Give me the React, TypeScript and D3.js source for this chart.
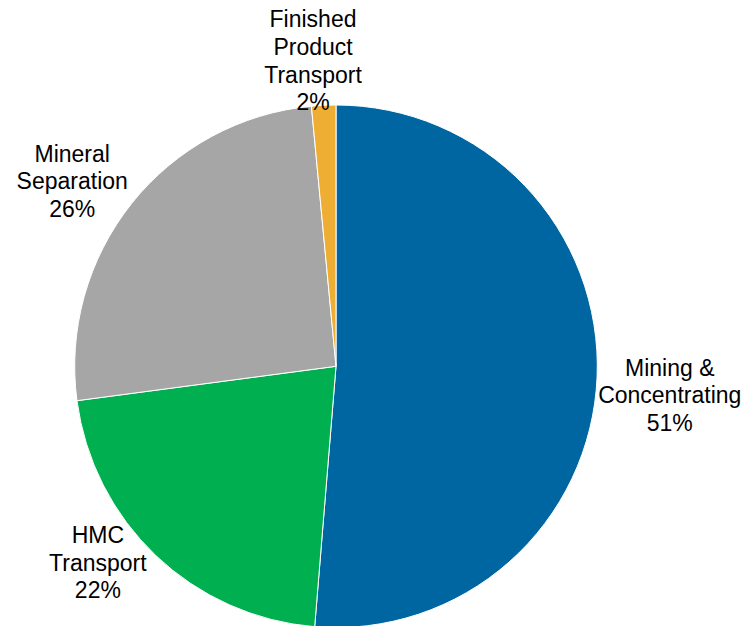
import React from 'react';
import { pie, arc, PieArcDatum } from 'd3';

// slice data, clockwise from 12 o'clock
const categories = [
  ['Mining &', 'Concentrating'],
  ['HMC', 'Transport'],
  ['Mineral', 'Separation'],
  ['Finished', 'Product', 'Transport'],
];
const shares = [51.3, 21.6, 25.6, 1.5];
const colors = ['#0066A1', '#00B050', '#A6A6A6', '#EEAD33'];

const dim = {
  width: 748,
  height: 626,
  cx: 336,
  cy: 366.3,
  radius: 261.3,
  labelRadius: 318,
  fontSize: 23,
  lineHeight: 27.6,
};

// hand nudges so the labels sit where the original placed them
const labelNudge: Array<[number, number]> = [
  [16, 16],
  [-19, -34],
  [-15, 13],
  [-8, 12],
];

interface Slice {
  name: string[];
  value: number;
  color: string;
}

const slices: Slice[] = shares.map((value, i) => ({
  name: categories[i],
  value,
  color: colors[i],
}));

const App: React.FC = () => {
  const arcs = pie<Slice>()
    .sort(null)
    .value((d) => d.value)
    .startAngle(0)
    .endAngle(2 * Math.PI)(slices);

  const arcPath = arc<PieArcDatum<Slice>>()
    .innerRadius(0)
    .outerRadius(dim.radius);

  const labelPos = (d: PieArcDatum<Slice>, i: number) => {
    const mid = (d.startAngle + d.endAngle) / 2;
    const x = Math.sin(mid) * dim.labelRadius + labelNudge[i][0];
    const y = -Math.cos(mid) * dim.labelRadius + labelNudge[i][1];
    return [x, y];
  };

  return (
    <svg
      width={dim.width}
      height={dim.height}
      style={{ position: 'absolute', left: 0, top: 0, background: '#fff' }}
    >
      <g transform={`translate(${dim.cx},${dim.cy})`}>
        {arcs.map((d, i) => (
          <path
            key={i}
            d={arcPath(d) || ''}
            fill={d.data.color}
            stroke="#fff"
            strokeWidth={1}
          />
        ))}
        {arcs.map((d, i) => {
          const [x, y] = labelPos(d, i);
          const lines = [...d.data.name, `${Math.round(d.data.value)}%`];
          const firstY =
            y - ((lines.length - 1) / 2) * dim.lineHeight + dim.fontSize * 0.35;
          return (
            <text
              key={`l${i}`}
              x={x}
              y={firstY}
              textAnchor="middle"
              fontFamily="'Liberation Sans', Arial, sans-serif"
              fontSize={dim.fontSize}
              fill="#000"
            >
              {lines.map((line, j) => (
                <tspan key={j} x={x} dy={j === 0 ? 0 : dim.lineHeight}>
                  {line}
                </tspan>
              ))}
            </text>
          );
        })}
      </g>
    </svg>
  );
};

export default App;
